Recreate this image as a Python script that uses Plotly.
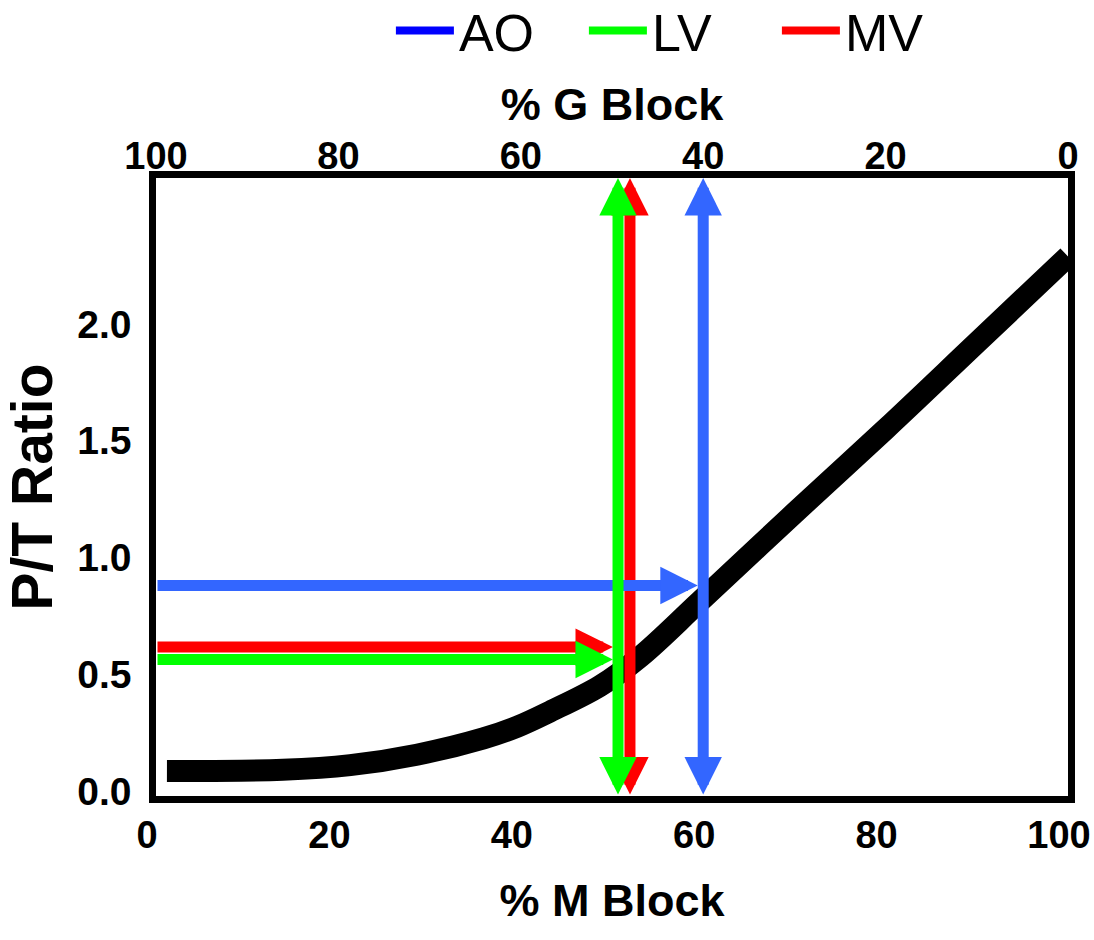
import plotly.graph_objects as go

# ---- data ----
m_block = [1.2, 13.9, 21.3, 28.6, 35.9, 39.6, 43.2, 48.7, 53.1, 59.6, 70, 80, 90, 100]
pt_ratio = [0.085, 0.09, 0.11, 0.155, 0.225, 0.275, 0.34, 0.45, 0.575, 0.81, 1.19, 1.55, 1.92, 2.29]

series_names = ["AO", "LV", "MV"]
legend_colors = ["#0000FF", "#00FF00", "#FF0000"]
arrow_colors = ["#3366FF", "#00FF00", "#FF0000"]
series_m_block = [60.0, 50.66, 51.97]       # vertical arrow position (% M Block)
series_pt = [0.88, 0.563, 0.616]            # horizontal arrow level (P/T ratio)
series_tip = [59.4, 50.1, 50.1]             # where the horizontal arrow meets the curve

x_ticks = [0, 20, 40, 60, 80, 100]
y_ticks = [0.0, 0.5, 1.0, 1.5, 2.0]
x_range = [0, 100]
y_range = [-0.022, 2.626]

# ---- figure ----
fig = go.Figure()

fig.add_trace(go.Scatter(
    x=m_block, y=pt_ratio, mode="lines",
    line=dict(color="black", width=22, shape="spline", smoothing=1.0),
    showlegend=False, hoverinfo="skip"))

for name, col in zip(series_names, legend_colors):
    fig.add_trace(go.Scatter(
        x=[None], y=[None], mode="lines", name=name, xaxis="x2",
        line=dict(color=col, width=8)))

AW = 11
AS = 0.68

annotations = []
draw_order = [2, 0, 1]  # MV, AO, LV (LV on top)
for i in draw_order:
    col = arrow_colors[i]
    # horizontal arrow from the y axis to the curve
    annotations.append(dict(
        x=series_tip[i], y=series_pt[i], ax=x_range[0], ay=series_pt[i],
        xref="x", yref="y", axref="x", ayref="y",
        text="", showarrow=True, arrowhead=2, arrowsize=AS, arrowwidth=AW,
        arrowcolor=col, standoff=0, font=dict(size=1)))
    # vertical double-headed arrow
    annotations.append(dict(
        x=series_m_block[i], y=y_range[1], ax=series_m_block[i], ay=y_range[0],
        xref="x", yref="y", axref="x", ayref="y",
        text="", showarrow=True, arrowhead=2, arrowsize=AS, arrowwidth=AW,
        arrowside="end+start", startarrowhead=2, startarrowsize=AS,
        arrowcolor=col, standoff=0, startstandoff=0, font=dict(size=1)))

tick_font_x = dict(family="Liberation Sans, Arial", size=38, color="black", weight="bold")
tick_font_y = dict(family="Liberation Sans, Arial", size=39, color="black", weight="bold")
title_font = dict(family="Liberation Sans, Arial", size=45, color="black", weight="bold")

fig.update_layout(
    width=1094, height=940,
    margin=dict(l=156, r=26, t=178, b=144, autoexpand=False),
    paper_bgcolor="white", plot_bgcolor="white",
    annotations=annotations,
    showlegend=True,
    legend=dict(orientation="h", x=0.575, xanchor="center", y=1.304, yanchor="top",
                font=dict(family="Liberation Sans, Arial", size=52, color="black"),
                itemwidth=58, entrywidth=120, entrywidthmode="pixels",
                bgcolor="rgba(0,0,0,0)"),
    xaxis=dict(range=x_range, tickvals=x_ticks, showgrid=False, zeroline=False,
               showline=True, linewidth=6.5, linecolor="black", mirror=True,
               ticks="", tickfont=tick_font_x, ticklabeloverflow="allow", automargin=False,
               ticklabelshift=-9,
               title=dict(text="% M Block", font=title_font, standoff=32)),
    xaxis2=dict(range=x_range[::-1], tickvals=x_ticks, overlaying="x", side="top",
                showgrid=False, zeroline=False, showline=False, ticks="",
                tickfont=tick_font_x, ticklabeloverflow="allow", automargin=False,
                title=dict(text="% G Block", font=title_font, standoff=0)),
    yaxis=dict(range=y_range, tickvals=y_ticks, tickformat=".1f", showgrid=False,
               zeroline=False, showline=True, linewidth=6.5, linecolor="black",
               mirror=True, ticks="", tickfont=tick_font_y, ticklabelstandoff=10,
               automargin=False,
               title=dict(text="P/T Ratio", font=dict(family="Liberation Sans, Arial", size=57,
                                                      color="black", weight="bold"), standoff=9)),
)

fig.write_html("out.html")
